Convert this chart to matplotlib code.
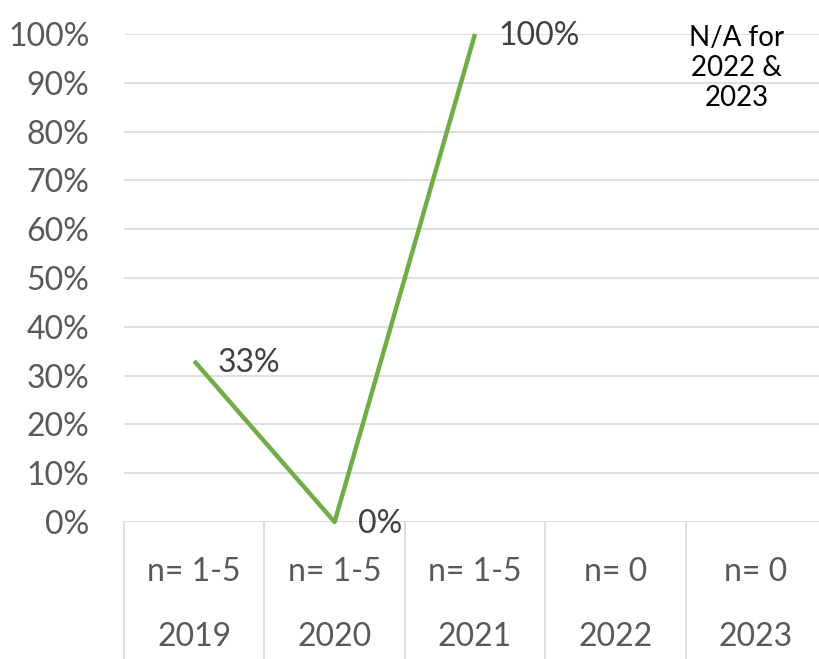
import matplotlib.pyplot as plt
from matplotlib.ticker import PercentFormatter

years = ["2019", "2020", "2021", "2022", "2023"]
n_labels = ["n= 1-5", "n= 1-5", "n= 1-5", "n= 0", "n= 0"]
rates = [33, 0, 100]          # only 2019-2021 have data
rate_labels = ["33%", "0%", "100%"]
note = "N/A for\n2022 &\n2023"

plt.rcParams["font.family"] = ["Lato", "DejaVu Sans"]

W, H = 820, 659
fig = plt.figure(figsize=(W / 100, H / 100), dpi=100)
ax = fig.add_axes([124 / W, (H - 522) / H, (826 - 124) / W, (522 - 34) / H])

xs = [i + 0.5 for i in range(len(years))]
ax.plot(xs[:len(rates)], rates, color="#70AD47", lw=3.2, solid_capstyle="butt",
        zorder=3, clip_on=False)

for x, y, lab in zip(xs, rates, rate_labels):
    ax.annotate(lab, (x, y), xytext=(17, -1.2), textcoords="offset points",
                ha="left", va="center", fontsize=23, color="#404040")

ax.set_xlim(0, len(years))
ax.set_ylim(0, 100)
ax.set_yticks(range(0, 101, 10))
ax.yaxis.set_major_formatter(PercentFormatter(decimals=0))
ax.tick_params(axis="y", length=0, pad=25, labelsize=23, labelcolor="#595959")
ax.set_xticks([])
ax.grid(axis="y", color="#D9D9D9", lw=1.2)
ax.set_axisbelow(True)
for s in ax.spines.values():
    s.set_visible(False)

# category table below the axis
tr = ax.get_xaxis_transform()
for i in range(len(years) + 1):
    ax.plot([i, i], [0, -0.3], transform=tr, color="#D9D9D9", lw=1.2, clip_on=False)
for x, n, yr in zip(xs, n_labels, years):
    ax.text(x, -0.102, n, transform=tr, ha="center", va="center",
            fontsize=23, color="#595959")
    ax.text(x, -0.236, yr, transform=tr, ha="center", va="center",
            fontsize=23, color="#595959")

fig.text(737 / W, (H - 68) / H, note, ha="center", va="center",
         fontsize=20, color="black", linespacing=1.2)

fig.savefig("out.png", dpi=100)
